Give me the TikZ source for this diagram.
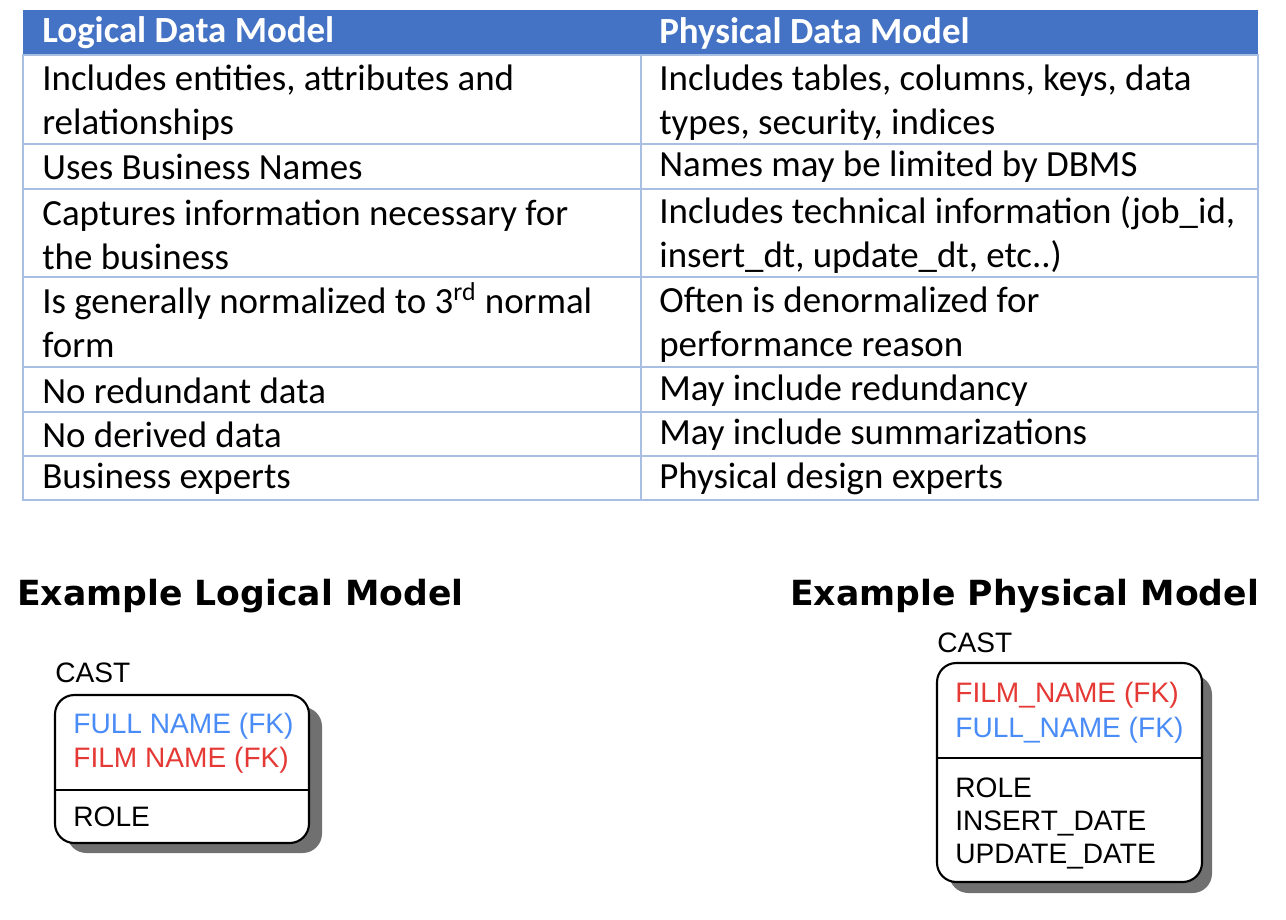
\documentclass[tikz,border=0pt]{standalone}
\usepackage{fontspec}
\setmainfont{Carlito}
\newfontfamily\erfont{Liberation Sans}
\newfontfamily\titlefont{DejaVu Sans}
\definecolor{hdrblue}{HTML}{4472C4}
\definecolor{gridblue}{HTML}{A9BEE3}
\definecolor{fkblue}{HTML}{4A8CF7}
\definecolor{fkred}{HTML}{E53935}
\definecolor{shadowgray}{HTML}{707070}

\begin{document}
\begin{tikzpicture}[x=0.02cm,y=-0.02cm,
      cell/.style={anchor=west, inner sep=0pt, align=left, font=\fontsize{21}{25.2}\selectfont},
      head/.style={cell, text=white, font=\bfseries\fontsize{21}{25.2}\selectfont},
      heading/.style={anchor=west, inner sep=0pt, font=\titlefont\bfseries\fontsize{19.7}{22}\selectfont},
      attr/.style={anchor=west, inner sep=0pt, font=\erfont\fontsize{16}{19}\selectfont},
      entity/.style={draw=black, line width=1.2pt, rounded corners=11pt, fill=white},
      shade/.style={fill=shadowgray, rounded corners=11pt}
      ]
      \useasboundingbox (0,0) rectangle (1286,920);

      % comparison table
      \fill[hdrblue] (23,10) rectangle (1258,55);
      \draw[gridblue, line width=1pt] (23,55) rectangle (1258,500);
      \foreach \y in {144,189,277,367,412,456}
        \draw[gridblue, line width=1pt] (23,\y) -- (1258,\y);
      \draw[gridblue, line width=1pt] (641,55) -- (641,500);

      \node[head] (lhead) at (42,33) {Logical Data Model};
      \node[head] (phead) at (659,33) {Physical Data Model};

      \node[cell] (l1) at (42,103) {Includes entities, attributes and\\relationships};
      \node[cell] (l2) at (42,167) {Uses Business Names};
      \node[cell] (l3) at (42,235) {Captures information necessary for\\the business};
      \node[cell] (l4) at (42,320) {Is generally normalized to 3\textsuperscript{rd} normal\\form};
      \node[cell] (l5) at (42,391) {No redundant data};
      \node[cell] (l6) at (42,435) {No derived data};
      \node[cell] (l7) at (42,479) {Business experts};

      \node[cell] (p1) at (659,103) {Includes tables, columns, keys, data\\types, security, indices};
      \node[cell] (p2) at (659,167) {Names may be limited by DBMS};
      \node[cell] (p3) at (659,235) {Includes technical information (job\_id,\\insert\_dt, update\_dt, etc..)};
      \node[cell] (p4) at (659,325) {Often is denormalized for\\performance reason};
      \node[cell] (p5) at (659,391) {May include redundancy};
      \node[cell] (p6) at (659,435) {May include summarizations};
      \node[cell] (p7) at (659,479) {Physical design experts};

      % example models
      \node[heading] (lexample) at (17,596) {Example Logical Model};
      \node[heading] (pexample) at (790,596) {Example Physical Model};

      \fill[shade] (67,707) rectangle (322,853);
      \draw[entity] (55,695) rectangle (309,843);
      \draw[line width=1.2pt] (55,790) -- (309,790);
      \node[attr] (lcast) at (55,673) {CAST};
      \node[attr, text=fkblue] (lfull) at (73,726) {FULL NAME (FK)};
      \node[attr, text=fkred] (lfilm) at (73,760) {FILM NAME (FK)};
      \node[attr] (lrole) at (73,817) {ROLE};

      \fill[shade] (949,675) rectangle (1212,893);
      \draw[entity] (937,663) rectangle (1202,882);
      \draw[line width=1.2pt] (937,758) -- (1202,758);
      \node[attr] (pcast) at (937,643) {CAST};
      \node[attr, text=fkred] (pfilm) at (955,695) {FILM\_NAME (FK)};
      \node[attr, text=fkblue] (pfull) at (955,730) {FULL\_NAME (FK)};
      \node[attr] (prole) at (955,788) {ROLE};
      \node[attr] (pinsert) at (955,823) {INSERT\_DATE};
      \node[attr] (pupdate) at (955,857) {UPDATE\_DATE};
    \end{tikzpicture}
\end{document}
